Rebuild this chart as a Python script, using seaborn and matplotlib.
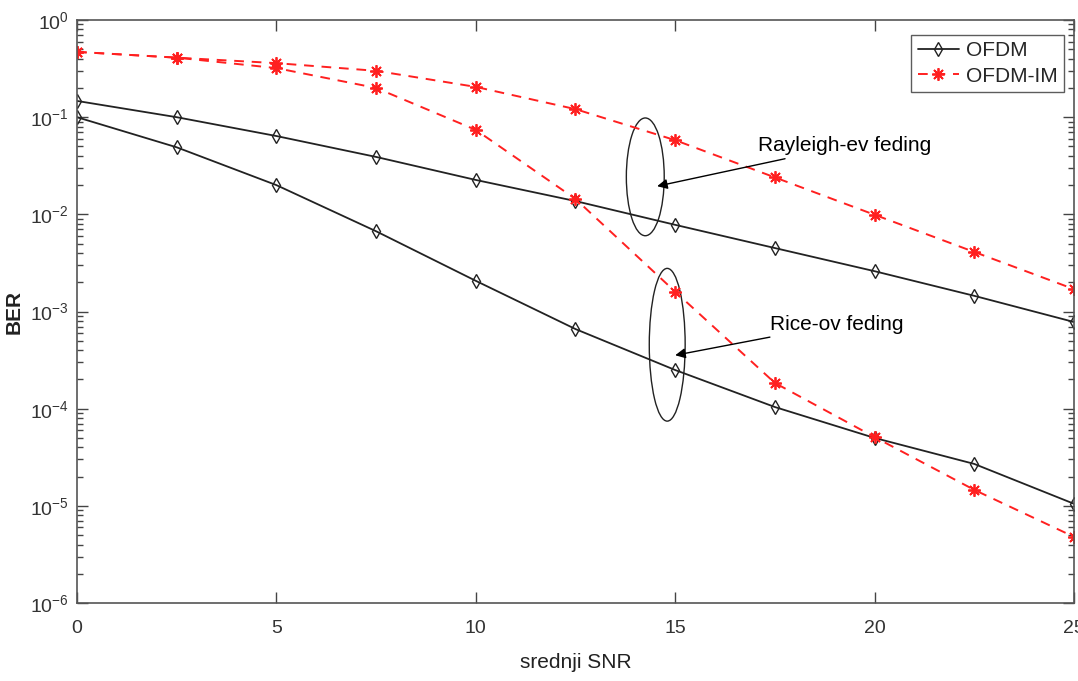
import numpy as np
import pandas as pd
import matplotlib
matplotlib.use("Agg")
import matplotlib.pyplot as plt
import seaborn as sns
from matplotlib.patches import Ellipse
from matplotlib.ticker import LogLocator, FixedLocator, NullLocator, NullFormatter

snr = [0, 2.5, 5, 7.5, 10, 12.5, 15, 17.5, 20, 22.5, 25]
ofdm_rayleigh = [0.147, 0.100, 0.064, 0.039, 0.0226, 0.0137, 0.0078, 0.0045, 0.0026, 0.00145, 0.00078]
ofdm_rice = [0.100, 0.049, 0.020, 0.0067, 0.00207, 0.00066, 0.00025, 0.000104, 5.0e-5, 2.7e-5, 1.05e-5]
ofdmim_rayleigh = [0.47, 0.41, 0.36, 0.30, 0.205, 0.121, 0.058, 0.024, 0.0099, 0.0041, 0.0017]
ofdmim_rice = [0.47, 0.41, 0.32, 0.20, 0.074, 0.0144, 0.0016, 1.84e-4, 5.1e-5, 1.46e-5, 4.8e-6]
x_ticks = [0, 5, 10, 15, 20, 25]
y_ticks = [1e-6, 1e-5, 1e-4, 1e-3, 1e-2, 1e-1, 1e0]
y_ticklabels = ["10$^{-6}$", "10$^{-5}$", "10$^{-4}$", "10$^{-3}$", "10$^{-2}$", "10$^{-1}$", "10$^{0}$"]

sns.set_theme(style="white")
plt.rcParams['font.family'] = ['Liberation Sans', 'DejaVu Sans']
plt.rcParams['mathtext.fontset'] = 'custom'
plt.rcParams['mathtext.rm'] = 'Liberation Sans'
plt.rcParams['mathtext.default'] = 'rm'

fig = plt.figure(figsize=(10.78, 6.81), dpi=100)
ax = fig.add_axes([0.0714, 0.1145, 0.9249, 0.8561])

black_kw = dict(color="#222222", linewidth=1.3, marker="d", markersize=7,
                markerfacecolor="none", markeredgecolor="#222222", markeredgewidth=1.0)
red_kw = dict(color="#ff2020", linewidth=1.4, linestyle=(0, (5, 4)), marker=(8, 2, 0), markersize=9,
              markerfacecolor="#ff2020", markeredgecolor="#ff2020", markeredgewidth=1.3)

sns.lineplot(x=snr, y=ofdm_rayleigh, ax=ax, label="OFDM", **black_kw)
sns.lineplot(x=snr, y=ofdm_rice, ax=ax, label="_nolegend_", **black_kw)
sns.lineplot(x=snr, y=ofdmim_rayleigh, ax=ax, label="OFDM-IM", **red_kw)
sns.lineplot(x=snr, y=ofdmim_rice, ax=ax, label="_nolegend_", **red_kw)

ax.set_yscale("log")
ax.set_xlim(0, 25)
ax.set_ylim(1e-6, 1)
ax.set_xticks(x_ticks)
ax.set_xticklabels([str(t) for t in x_ticks])
ax.xaxis.set_minor_locator(NullLocator())
ax.yaxis.set_major_locator(FixedLocator(y_ticks))
ax.set_yticklabels(y_ticklabels)
ax.yaxis.set_minor_locator(LogLocator(base=10, subs=np.arange(2, 10)))
ax.yaxis.set_minor_formatter(NullFormatter())

ax.tick_params(axis="both", which="both", direction="in", top=True, right=True,
               left=True, bottom=True,
               colors="#444444", labelcolor="#333333", labelsize=14)
ax.tick_params(axis="both", which="major", length=8, width=1)
ax.tick_params(axis="y", which="minor", length=4, width=1)
ax.tick_params(axis="x", which="major", pad=12)
ax.tick_params(axis="y", which="major", pad=6)
for s in ax.spines.values():
    s.set_color("#555555")
    s.set_linewidth(1.2)

ax.set_xlabel("srednji SNR", fontsize=15, color="#222222", labelpad=12)
ax.set_ylabel("BER", fontsize=15, fontweight="bold", color="#222222", labelpad=4)

# ellipses
ax.add_patch(Ellipse((0.570, 0.731), 0.038, 0.202, transform=ax.transAxes,
                     fill=False, edgecolor="#222222", linewidth=1.0))
ax.add_patch(Ellipse((0.592, 0.443), 0.036, 0.262, transform=ax.transAxes,
                     fill=False, edgecolor="#222222", linewidth=1.0))

# annotations
ax.annotate("Rayleigh-ev feding", xy=(0.5819, 0.715), xycoords="axes fraction",
            xytext=(0.683, 0.784), textcoords="axes fraction", fontsize=15, color="black",
            va="center", ha="left",
            arrowprops=dict(arrowstyle="-|>", color="black", lw=1.0, mutation_scale=15,
                            shrinkA=0, shrinkB=0))
ax.annotate("Rice-ov feding", xy=(0.6, 0.425), xycoords="axes fraction",
            xytext=(0.695, 0.478), textcoords="axes fraction", fontsize=15, color="black",
            va="center", ha="left",
            arrowprops=dict(arrowstyle="-|>", color="black", lw=1.0, mutation_scale=15,
                            shrinkA=0, shrinkB=0))

leg = ax.legend(loc="upper right", bbox_to_anchor=(0.9895, 0.974), fontsize=15,
                frameon=True, fancybox=False, handlelength=2.0, handletextpad=0.3,
                borderpad=0.3, labelspacing=0.3, borderaxespad=0)
leg.get_frame().set_edgecolor("#333333")
leg.get_frame().set_linewidth(1.0)

fig.savefig("out.png", dpi=100)
